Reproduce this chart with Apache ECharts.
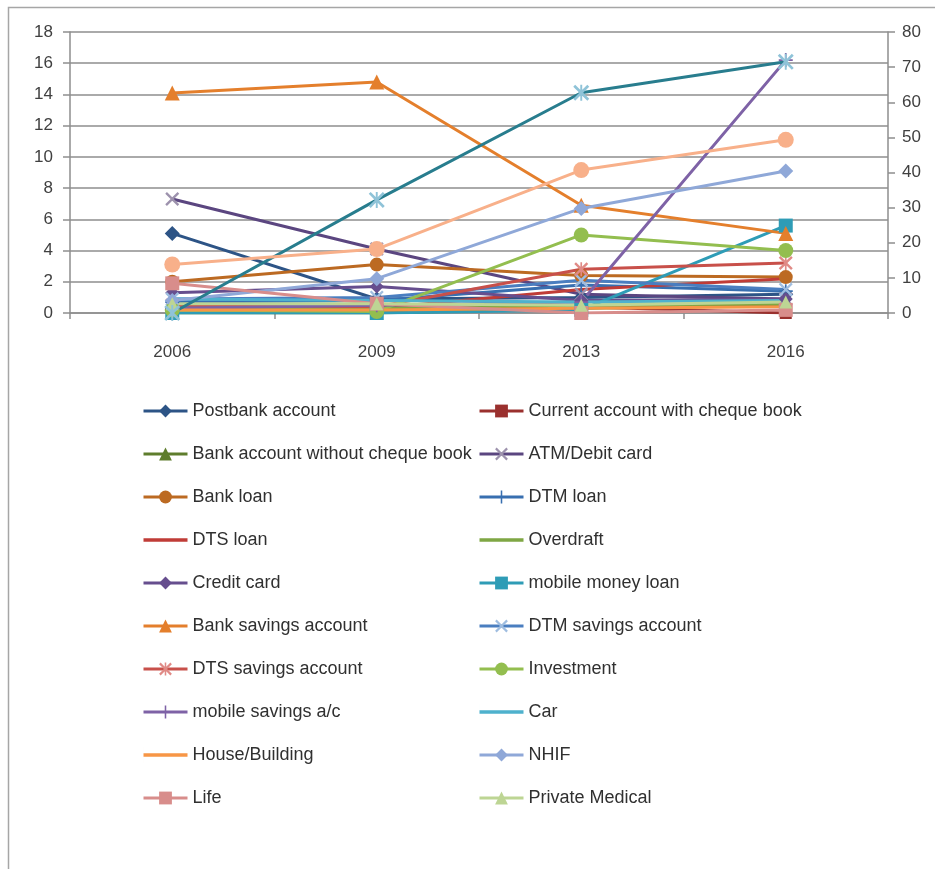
<!DOCTYPE html>
<html>
<head>
<meta charset="utf-8">
<script src="https://cdn.jsdelivr.net/npm/echarts@6/dist/echarts.min.js"></script>
<style>
  html, body { margin: 0; padding: 0; background: #ffffff; }
  #chart { width: 935px; height: 869px; }
</style>
</head>
<body>
<div id="chart"></div>
<script>
// Survey years on the category axis
const years = ['2006', '2009', '2013', '2016'];

// Left-axis tick values and right-axis tick values
const leftTicks = [0, 2, 4, 6, 8, 10, 12, 14, 16, 18];
const rightTicks = [0, 10, 20, 30, 40, 50, 60, 70, 80];

// Series values (left axis, 0-18)
const postbankAccount        = [5.1, 0.9, 1.0, 1.2];
const currentAccountCheque   = [0.3, 0.2, 0.4, 0.0];
const bankAccountNoCheque    = [0.0, 0.0, 0.3, 0.5];
const atmDebitCard           = [7.3, 4.1, 1.2, 0.9];
const bankLoan               = [2.0, 3.1, 2.4, 2.3];
const dtmLoan                = [0.7, 0.8, 1.8, 1.4];
const dtsLoan                = [0.3, 0.3, 1.5, 2.2];
const overdraft              = [0.4, 0.3, 0.5, 0.6];
const creditCard             = [1.3, 1.7, 0.8, 0.9];
const mobileMoneyLoan        = [0.0, 0.0, 0.2, 5.6];
const bankSavingsAccount     = [14.1, 14.8, 6.9, 5.1];
const dtmSavingsAccount      = [0.9, 1.0, 2.1, 1.5];
const dtsSavingsAccount      = [0.5, 0.4, 2.8, 3.2];
const investment             = [0.2, 0.1, 5.0, 4.0];
const mobileSavings          = [0.3, 0.5, 0.7, 16.2];
const car                    = [0.9, 0.8, 0.7, 0.8];
const houseBuilding          = [0.2, 0.2, 0.3, 0.4];
const nhif                   = [0.8, 2.2, 6.7, 9.1];
const life                   = [1.9, 0.6, 0.0, 0.2];
const privateMedical         = [0.6, 0.6, 0.5, 0.7];

// Series plotted against the right axis (0-80), not listed in the legend
const series21 = [0, 32.2, 62.7, 71.5];
const series22 = [13.8, 18.2, 40.7, 49.3];

// Marker outlines drawn as thin filled paths
const SYM_X = 'path://M0,1.2 L1.2,0 L5,3.8 L8.8,0 L10,1.2 L6.2,5 L10,8.8 L8.8,10 L5,6.2 L1.2,10 L0,8.8 L3.8,5 Z';
const SYM_PLUS = 'path://M4.4,0 H5.6 V4.4 H10 V5.6 H5.6 V10 H4.4 V5.6 H0 V4.4 H4.4 Z';
const SYM_STAR = SYM_X + ' M4.4,0 H5.6 V10 H4.4 Z';
// Plain bar used as the legend key of series drawn without markers
const KEY_LINE = 'path://M0,6.3 H44 V9.7 H0 Z M0,0 H0.01 V16 H0 Z';

function line(name, data, color, symbol, opts) {
  opts = opts || {};
  return {
    name: name,
    type: 'line',
    data: data,
    yAxisIndex: opts.axis || 0,
    symbol: symbol || 'none',
    showSymbol: symbol ? true : false,
    symbolSize: opts.size || 13,
    lineStyle: { color: color, width: 3 },
    itemStyle: { color: opts.markerColor || color },
    emphasis: { disabled: true },
    animation: false
  };
}

const seriesList = [
  line('Postbank account', postbankAccount, '#2D5486', 'diamond', { size: 15 }),
  line('Current account with cheque book', currentAccountCheque, '#9A302E', 'rect', { size: 12 }),
  line('Bank account without cheque book', bankAccountNoCheque, '#5E7D2C', 'triangle', { size: 13 }),
  line('ATM/Debit card', atmDebitCard, '#5B4680', SYM_X, { size: 14, markerColor: '#9d92ad' }),
  line('Bank loan', bankLoan, '#BC6A22', 'circle', { size: 14 }),
  line('DTM loan', dtmLoan, '#386FB0', SYM_PLUS, { size: 14 }),
  line('DTS loan', dtsLoan, '#C03C37', null),
  line('Overdraft', overdraft, '#7FA744', null),
  line('Credit card', creditCard, '#664E8E', 'diamond', { size: 14 }),
  line('mobile money loan', mobileMoneyLoan, '#2E9CB6', 'rect', { size: 14 }),
  line('Bank savings account', bankSavingsAccount, '#E47F2C', 'triangle', { size: 15 }),
  line('DTM savings account', dtmSavingsAccount, '#4A7EC0', SYM_X, { size: 14, markerColor: '#9fbde0' }),
  line('DTS savings account', dtsSavingsAccount, '#C8504A', SYM_STAR, { size: 14, markerColor: '#e08a86' }),
  line('Investment', investment, '#93BE4F', 'circle', { size: 15 }),
  line('mobile savings a/c', mobileSavings, '#7E62A6', SYM_PLUS, { size: 14 }),
  line('Car', car, '#4EB1CD', null),
  line('House/Building', houseBuilding, '#F79646', null),
  line('NHIF', nhif, '#8FA8D8', 'diamond', { size: 15 }),
  line('Life', life, '#D88D8B', 'rect', { size: 14 }),
  line('Private Medical', privateMedical, '#BDD594', 'triangle', { size: 13 }),
  line('Series 21', series21, '#287D8E', SYM_STAR, { size: 16, axis: 1, markerColor: '#8fc3d8' }),
  line('Series 22', series22, '#F8B08A', 'circle', { size: 16, axis: 1 })
];

// Legend entries: the first twenty series, in two columns
const legendItems = seriesList.slice(0, 20).map(s =>
  s.symbol === 'none' ? { name: s.name, icon: KEY_LINE } : { name: s.name }
);
const leftColumn = legendItems.filter((_, i) => i % 2 === 0);
const rightColumn = legendItems.filter((_, i) => i % 2 === 1);

const labelFont = { fontFamily: 'Liberation Sans', fontSize: 17, color: '#404040' };
const gridColor = '#8e8e8e';

function legendColumn(items, left) {
  return {
    data: items,
    orient: 'vertical',
    left: left,
    top: 397,
    itemWidth: 44,
    itemHeight: 16,
    itemGap: 25,
    selectedMode: false,
    lineStyle: { width: 3 },
    textStyle: { fontFamily: 'Liberation Sans', fontSize: 18, color: '#303030' }
  };
}

const chart = echarts.init(document.getElementById('chart'), null, { renderer: 'canvas' });
chart.setOption({
  backgroundColor: '#ffffff',
  animation: false,
  graphic: [{
    type: 'rect',
    shape: { x: 8.5, y: 7.5, width: 1000, height: 1000 },
    style: { fill: 'none', stroke: '#a6a6a6', lineWidth: 1.5 },
    silent: true
  }],
  grid: { left: 70, right: 47, top: 32, bottom: 556, containLabel: false },
  legend: [legendColumn(leftColumn, 137), legendColumn(rightColumn, 473)],
  xAxis: {
    type: 'category',
    data: years,
    boundaryGap: true,
    axisLine: { show: true, lineStyle: { color: gridColor, width: 1.5 } },
    axisTick: { show: true, interval: 0, alignWithLabel: false, length: 6, lineStyle: { color: gridColor, width: 1.5 } },
    axisLabel: Object.assign({ margin: 31 }, labelFont),
    splitLine: { show: false }
  },
  yAxis: [{
    type: 'value',
    min: leftTicks[0],
    max: leftTicks[leftTicks.length - 1],
    interval: leftTicks[1] - leftTicks[0],
    position: 'left',
    axisLine: { show: true, lineStyle: { color: gridColor, width: 1.5 } },
    axisTick: { show: true, length: 7, lineStyle: { color: gridColor, width: 1.5 } },
    axisLabel: Object.assign({ margin: 17 }, labelFont),
    splitLine: { show: true, lineStyle: { color: gridColor, width: 1.5 } }
  }, {
    type: 'value',
    min: rightTicks[0],
    max: rightTicks[rightTicks.length - 1],
    interval: rightTicks[1] - rightTicks[0],
    position: 'right',
    axisLine: { show: true, lineStyle: { color: gridColor, width: 1.5 } },
    axisTick: { show: true, length: 7, lineStyle: { color: gridColor, width: 1.5 } },
    axisLabel: Object.assign({ margin: 14 }, labelFont),
    splitLine: { show: false }
  }],
  series: seriesList
});
</script>
</body>
</html>
